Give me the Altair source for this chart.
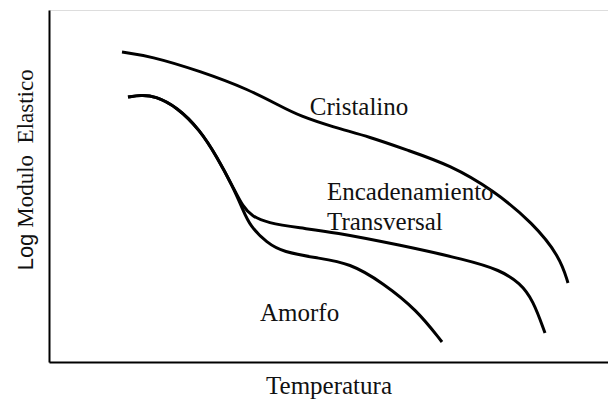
import altair as alt
import pandas as pd

# Readings from the picture (x: temperature, y: log modulus, arbitrary units)
cris_x = [73, 101, 151, 201, 231, 251, 284, 321, 358, 401, 444, 484, 511, 519]
cris_y = [310, 306, 291, 272, 256, 246, 235, 225, 212, 197, 172, 139, 105, 79]

enc_x = [79, 92, 106, 128, 151, 168, 184, 194, 203, 218, 251, 284, 351, 418, 451, 471, 484, 496]
enc_y = [265, 267, 266, 255, 232, 205, 175, 155, 146, 139, 134, 130, 117, 102, 92, 79, 62, 29]

amo_x = [79, 92, 106, 128, 151, 168, 184, 194, 201, 218, 234, 268, 301, 334, 368, 393]
amo_y = [265, 267, 266, 255, 232, 205, 175, 152, 136, 119, 110, 104, 99, 79, 52, 20]

label_text = ["Cristalino", "Encadenamiento", "Transversal", "Amorfo"]
label_x = [310, 278, 278, 211]
label_y = [247, 162, 132, 41]
label_align = ["center", "left", "left", "left"]

ytitle_part_text = ["Log"]
ytitle_part_x = [-16]
ytitle_part_y = [110]

rows = []
for name, xs, ys in [("Cristalino", cris_x, cris_y),
                     ("Encadenamiento Transversal", enc_x, enc_y),
                     ("Amorfo", amo_x, amo_y)]:
    for i, (a, b) in enumerate(zip(xs, ys)):
        rows.append({"serie": name, "t": a, "m": b, "o": i})
curves = pd.DataFrame(rows)
labels = pd.DataFrame({"text": label_text, "t": label_x, "m": label_y, "align": label_align})
ypart = pd.DataFrame({"text": ytitle_part_text, "t": ytitle_part_x, "m": ytitle_part_y})

xscale = alt.Scale(domain=[0, 559], nice=False, zero=False)
yscale = alt.Scale(domain=[0, 352], nice=False, zero=False)

FONT = "Liberation Serif"
INK = "#111111"

xaxis = alt.Axis(title="Temperatura", labels=False, ticks=False, grid=False,
                 domainColor="black", domainWidth=2, titleFont=FONT, titleFontSize=25,
                 titleFontWeight="normal", titleColor=INK, titlePadding=11)
yaxis = alt.Axis(title="Modulo \u00a0Elastico", labels=False, ticks=False, grid=False,
                 domainColor="black", domainWidth=2, titleFont=FONT, titleFontSize=23,
                 titleFontWeight="normal", titleColor=INK, titlePadding=12, titleY=138)

lines = alt.Chart(curves).mark_line(color="black", strokeWidth=3, interpolate="basis").encode(
    x=alt.X("t:Q", scale=xscale, axis=xaxis),
    y=alt.Y("m:Q", scale=yscale, axis=yaxis),
    detail="serie:N",
    order="o:Q",
)

left_labels = alt.Chart(labels[labels["align"] == "left"]).mark_text(
    font=FONT, fontSize=25, color=INK, align="left", baseline="alphabetic"
).encode(x=alt.X("t:Q", scale=xscale), y=alt.Y("m:Q", scale=yscale), text="text:N")

center_labels = alt.Chart(labels[labels["align"] == "center"]).mark_text(
    font=FONT, fontSize=25, color=INK, align="center", baseline="alphabetic"
).encode(x=alt.X("t:Q", scale=xscale), y=alt.Y("m:Q", scale=yscale), text="text:N")

log_text = alt.Chart(ypart).mark_text(
    font="Liberation Sans", fontSize=22, color=INK, align="center",
    baseline="alphabetic", angle=270
).encode(x=alt.X("t:Q", scale=xscale), y=alt.Y("m:Q", scale=yscale), text="text:N")

chart = alt.layer(lines, left_labels, center_labels, log_text).properties(
    width=559, height=352,
    autosize=alt.AutoSizeParams(type="none"),
    padding={"left": 49, "top": 10, "right": 0, "bottom": 41},
).configure_view(stroke=None).configure(background="white")

chart.save("out.html", embed_options={"renderer": "svg", "actions": False})
